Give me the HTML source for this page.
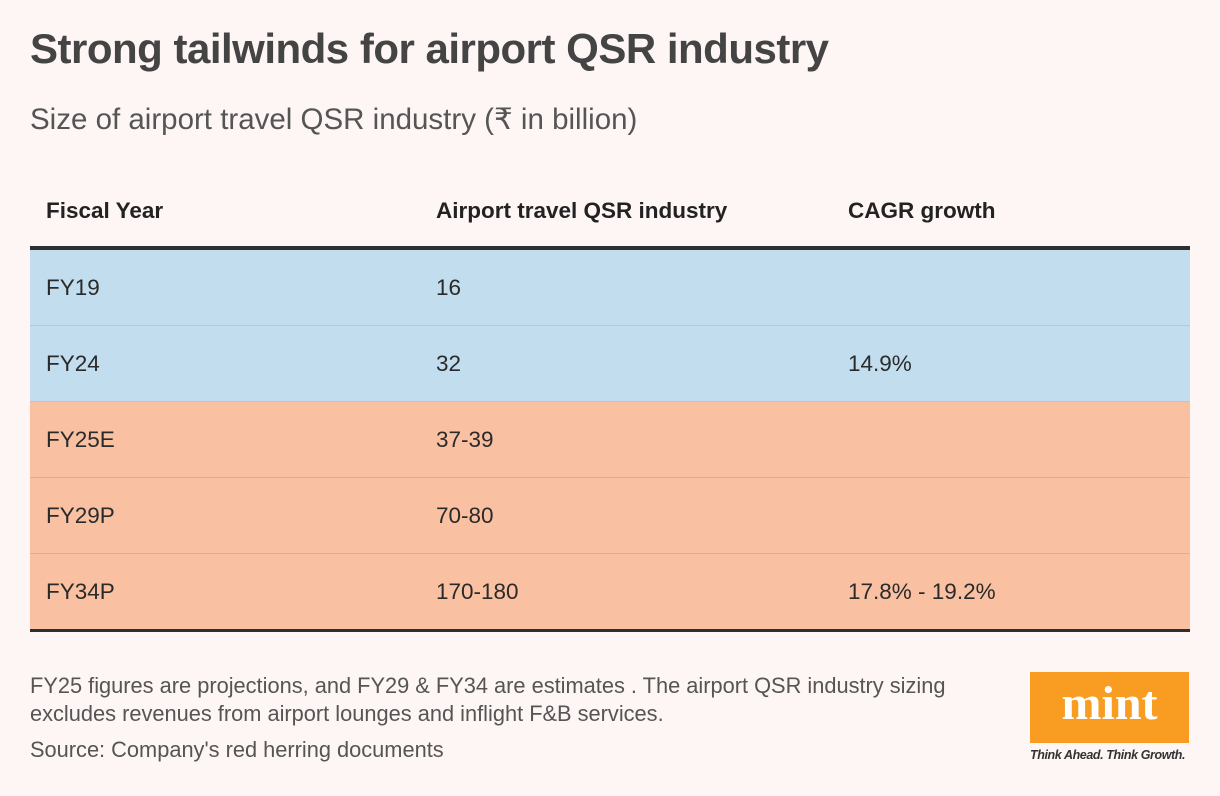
<!DOCTYPE html>
<html><head><meta charset="utf-8"><style>
body{margin:0;width:1220px;height:796px;background:#fdf6f4;font-family:"Liberation Sans",sans-serif;color:#333;position:relative;overflow:hidden}
.abs{position:absolute}
h1{position:absolute;left:30px;top:25px;margin:0;font-size:42px;font-weight:bold;color:#444;letter-spacing:-0.5px}
.sub{left:30px;top:102px;font-size:29.5px;color:#555}
.hdr{top:198px;font-size:22.5px;font-weight:bold;color:#222}
table{position:absolute;left:30px;top:246px;width:1160px;border-collapse:collapse;border-top:4px solid #2e2e2e;border-bottom:3px solid #2e2e2e}
td{height:75px;font-size:22.5px;color:#2a2a2a;padding:0;border-bottom:1px solid #aacde0}
tr.b td{background:#c2ddee}
tr.o td{background:#f9c1a2;border-bottom:1px solid #e8aa8a}
td.c1{padding-left:16px;width:390px}
td.c2{width:412px}
.note{left:30px;top:672px;font-size:21.8px;color:#555;line-height:28px}
.logo{left:1030px;top:672px;width:159px;height:71px;background:#f89d21;color:#fff;font-family:"Liberation Serif",serif;font-weight:bold;font-size:48px;text-align:center;line-height:64px}
.tag{left:1030px;top:748px;font-size:12.5px;font-style:italic;font-weight:bold;color:#333;letter-spacing:-0.4px}
</style></head><body>
<h1>Strong tailwinds for airport QSR industry</h1>
<div class="abs sub">Size of airport travel QSR industry (₹ in billion)</div>
<div class="abs hdr" style="left:46px">Fiscal Year</div>
<div class="abs hdr" style="left:436px">Airport travel QSR industry</div>
<div class="abs hdr" style="left:848px">CAGR growth</div>
<table>
<tr class="b"><td class="c1">FY19</td><td class="c2">16</td><td></td></tr>
<tr class="b"><td class="c1">FY24</td><td class="c2">32</td><td>14.9%</td></tr>
<tr class="o"><td class="c1">FY25E</td><td class="c2">37-39</td><td></td></tr>
<tr class="o"><td class="c1">FY29P</td><td class="c2">70-80</td><td></td></tr>
<tr class="o"><td class="c1">FY34P</td><td class="c2">170-180</td><td>17.8% - 19.2%</td></tr>
</table>
<div class="abs note">FY25 figures are projections, and FY29 &amp; FY34 are estimates . The airport QSR industry sizing<br>excludes revenues from airport lounges and inflight F&amp;B services.<div style="margin-top:8px">Source: Company's red herring documents</div></div>
<div class="abs logo">mint</div>
<div class="abs tag">Think Ahead. Think Growth.</div>
</body></html>
